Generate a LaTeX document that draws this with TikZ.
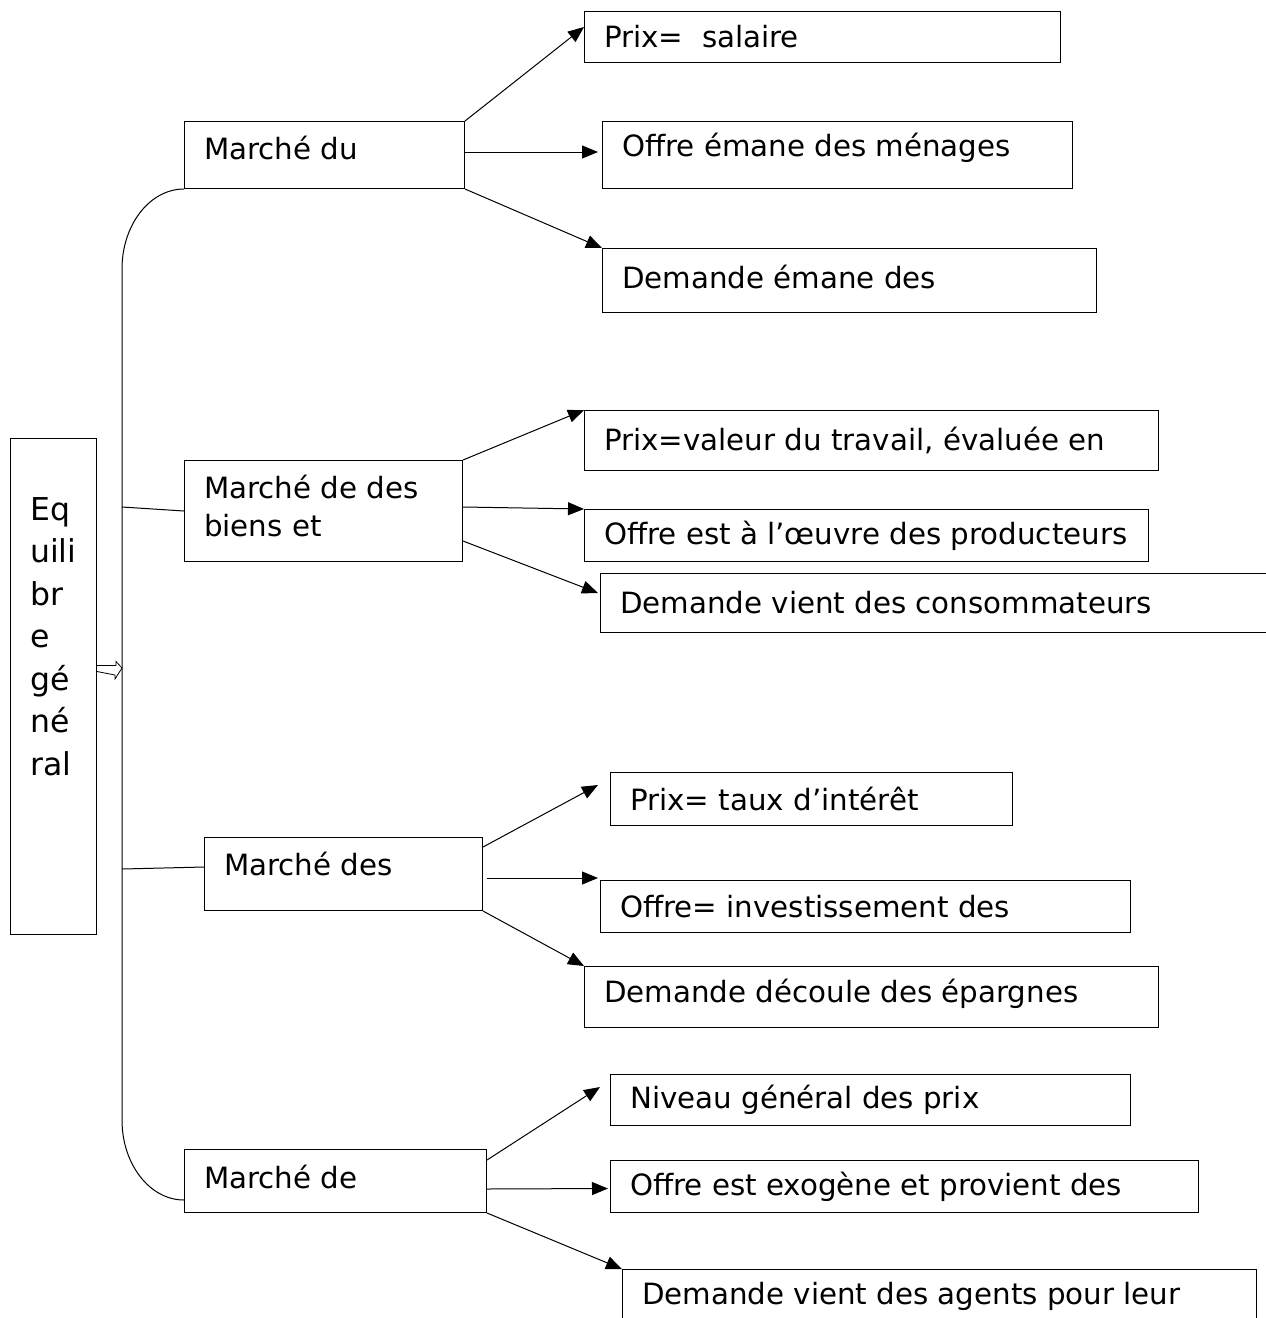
\documentclass[tikz,border=0pt]{standalone}
\usepackage{fontspec}
\setmainfont{DejaVu Sans}
\usetikzlibrary{arrows.meta, positioning}

\begin{document}
\begin{tikzpicture}[x=1pt, y=-1pt,
    box/.style={draw, line width=1pt, anchor=north west, inner sep=0pt},
    txt/.style={font=\fontsize{29.3pt}{38pt}\selectfont, inner sep=0pt, align=left},
    link/.style={line width=1pt, -{Triangle[length=16pt,width=13pt]}}]
    \useasboundingbox (0,0) rectangle (1266,1318);

    % Equilibre general
    \node[box, minimum width=86pt, minimum height=496pt] (eq) at (10,438) {};
    \node[txt, font=\fontsize{31.5pt}{42.5pt}\selectfont, anchor=north west] (eqt) at (30,497) {Eq\\uili\\br\\e\\gé\\né\\ral};

    % Markets
    \node[box, minimum width=280pt, minimum height=67pt] (m1) at (184,121) {};
    \node[box, minimum width=278pt, minimum height=101pt] (m2) at (184,460) {};
    \node[box, minimum width=278pt, minimum height=73pt] (m3) at (204,837) {};
    \node[box, minimum width=302pt, minimum height=63pt] (m4) at (184,1149) {};
    \node[txt, right=20pt of m1.west, yshift=7pt] (m1t) {Marché du};
    \node[txt, right=20pt of m2.west, yshift=5pt] (m2t) {Marché de des\\biens et};
    \node[txt, right=20pt of m3.west, yshift=10pt] (m3t) {Marché des};
    \node[txt, right=20pt of m4.west, yshift=4pt] (m4t) {Marché de};

    % Travail
    \node[box, minimum width=476pt, minimum height=51pt] (r1) at (584,11) {};
    \node[box, minimum width=470pt, minimum height=67pt] (r2) at (602,121) {};
    \node[box, minimum width=494pt, minimum height=64pt] (r3) at (602,248) {};
    \node[txt, right=20pt of r1.west] (r1t) {Prix=\ \ salaire};
    \node[txt, right=20pt of r2.west, yshift=7pt] (r2t) {Offre émane des ménages};
    \node[txt, right=20pt of r3.west, yshift=4pt] (r3t) {Demande émane des};

    % Biens et services
    \node[box, minimum width=574pt, minimum height=60pt] (r4) at (584,410) {};
    \node[box, minimum width=564pt, minimum height=52pt] (r5) at (584,509) {};
    \node[box, minimum width=680pt, minimum height=59pt] (r6) at (600,573) {};
    \node[txt, right=20pt of r4.west] (r4t) {Prix=valeur du travail, évaluée en};
    \node[txt, right=20pt of r5.west] (r5t) {Offre est à l’œuvre des producteurs};
    \node[txt, right=20pt of r6.west] (r6t) {Demande vient des consommateurs};

    % Titres
    \node[box, minimum width=402pt, minimum height=53pt] (r7) at (610,772) {};
    \node[box, minimum width=530pt, minimum height=52pt] (r8) at (600,880) {};
    \node[box, minimum width=574pt, minimum height=61pt] (r9) at (584,966) {};
    \node[txt, right=20pt of r7.west] (r7t) {Prix= taux d’intérêt};
    \node[txt, right=20pt of r8.west] (r8t) {Offre= investissement des};
    \node[txt, right=20pt of r9.west, yshift=3pt] (r9t) {Demande découle des épargnes};

    % Monnaie
    \node[box, minimum width=520pt, minimum height=51pt] (r10) at (610,1074) {};
    \node[box, minimum width=588pt, minimum height=52pt] (r11) at (610,1160) {};
    \node[box, minimum width=634pt, minimum height=70pt] (r12) at (622,1269) {};
    \node[txt, right=20pt of r10.west] (r10t) {Niveau général des prix};
    \node[txt, right=20pt of r11.west] (r11t) {Offre est exogène et provient des};
    \node[txt, right=20pt of r12.west, yshift=8pt] (r12t) {Demande vient des agents pour leur};

    % Bracket
    \coordinate (top) at (122,268);
    \coordinate (bot) at (122,1120);
    \coordinate (b2) at (122,507);
    \coordinate (b3) at (122,869);
    \coordinate (ha) at (122,668);
    \draw[line width=1pt] (m1.south west) arc[start angle=90, end angle=180, x radius=62pt, y radius=80pt]
        -- (bot) arc[start angle=180, end angle=270, x radius=62pt, y radius=80pt];
    \draw[line width=1pt] (b2) -- (m2.west);
    \draw[line width=1pt] (b3) -- ([yshift=7pt]m3.west);
    % hollow arrow
    \draw[line width=0.8pt, fill=white] ([yshift=21pt]eq.east) -- ++(19,0) -- ++(0,-4) -- (ha)
        -- ++(-7,11) -- ++(0,-4) -- ([yshift=15pt]eq.east);

    % Arrows
    \draw[link] (m1.north east) -- ([yshift=10pt]r1.west);
    \draw[link] ([yshift=3pt]m1.east) -- ([xshift=-4pt,yshift=3pt]r2.west);
    \draw[link] (m1.south east) -- (r3.north west);

    \draw[link] (m2.north east) -- (r4.north west);
    \draw[link] ([yshift=4pt]m2.east) -- (r5.north west);
    \draw[link] ([yshift=-30pt]m2.east) -- ([xshift=-2pt,yshift=10pt]r6.west);

    \draw[link] ([yshift=-10pt]m3.north east) -- ([xshift=-12pt,yshift=14pt]r7.west);
    \draw[link] ([xshift=4pt,yshift=-4pt]m3.east) -- ([xshift=-2pt,yshift=2pt]r8.north west);
    \draw[link] (m3.south east) -- (r9.north west);

    \draw[link] ([yshift=-11pt]m4.north east) -- ([xshift=-10pt,yshift=13pt]r10.west);
    \draw[link] ([yshift=-8pt]m4.east) -- ([xshift=-2pt,yshift=-2pt]r11.west);
    \draw[link] (m4.south east) -- (r12.north west);
\end{tikzpicture}
\end{document}
